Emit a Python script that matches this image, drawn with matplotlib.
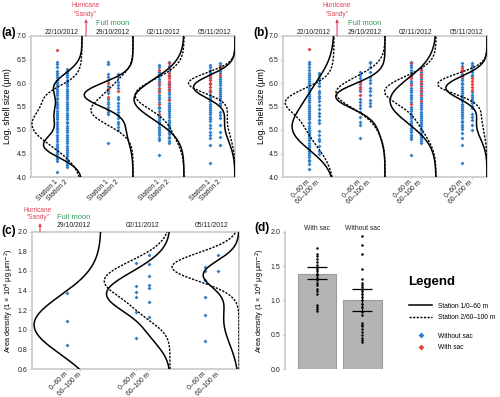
import numpy as np
import matplotlib.pyplot as plt
from matplotlib.lines import Line2D

plt.rcParams['font.family'] = ['Liberation Sans', 'DejaVu Sans']

W, H = 500, 397
BLUE = '#2f7fcb'
RED = '#e4423b'
GREEN = '#2e9a5a'
HURR = '#e0445a'
FRAME = '#c9c9c9'
DASH = (0, (1.6, 1.0))

dates_ab = ['22/10/2012', '29/10/2012', '02/11/2012', '05/11/2012']
dates_c = ['29/10/2012', '02/11/2012', '05/11/2012']

# density curves: (centre, spread, width as share of one date slot)
a_solid = [[(4.65, 0.25, 0.70), (5.30, 0.30, 0.50), (5.95, 0.27, 0.50)],
           [(5.75, 0.26, 0.95), (5.00, 0.30, 0.12)],
           [(5.65, 0.43, 0.98)],
           [(5.92, 0.25, 0.80), (5.10, 0.35, 0.20)]]
a_dash = [[(5.12, 0.47, 0.98), (5.78, 0.20, 0.30)],
          [(5.40, 0.30, 0.80), (5.95, 0.25, 0.25)],
          [(5.75, 0.33, 0.95), (5.00, 0.30, 0.18)],
          [(6.00, 0.22, 0.90), (5.20, 0.35, 0.15)]]
b_solid = [[(4.95, 0.42, 0.68), (5.70, 0.48, 0.40)],
           [(5.72, 0.27, 0.95), (5.10, 0.30, 0.12)],
           [(5.62, 0.48, 0.90)],
           [(5.90, 0.25, 0.80), (5.10, 0.30, 0.20)]]
b_dash = [[(5.65, 0.25, 0.60), (5.15, 0.50, 0.55)],
          [(5.80, 0.33, 0.95), (5.15, 0.30, 0.12)],
          [(5.85, 0.30, 0.95), (5.20, 0.35, 0.30)],
          [(5.98, 0.22, 0.95), (5.30, 0.35, 0.10)]]
c_solid = [[(1.05, 0.30, 0.97)],
           [(1.36, 0.20, 0.90), (0.95, 0.15, 0.20), (1.65, 0.15, 0.10)],
           [(1.57, 0.14, 0.48), (1.10, 0.25, 0.22)]]
c_dash = [[],
          [(1.50, 0.20, 0.95), (1.15, 0.12, 0.20)],
          [(1.64, 0.145, 0.97)]]

# (a) log shell size per station
a_st1_blue = [
    [6.45, 6.40, 6.33, 6.26, 6.21, 6.16, 6.12, 6.07, 6.02, 5.97, 5.93, 5.88, 5.83, 5.79, 5.74, 5.69,
     5.65, 5.60, 5.55, 5.51, 5.46, 5.41, 5.37, 5.32, 5.27, 5.23, 5.18, 5.13, 5.09, 5.04, 4.99, 4.95,
     4.90, 4.85, 4.81, 4.76, 4.71, 4.67, 4.62, 4.57, 4.53, 4.48, 4.43, 4.39, 4.34, 4.11],
    [6.45, 6.41, 6.20, 6.13, 6.06, 5.93, 5.84, 5.79, 5.65, 5.60, 5.55, 5.50, 5.43, 5.38, 5.33, 4.73],
    [6.38, 6.34, 6.23, 6.19, 6.14, 6.09, 6.05, 5.95, 5.86, 5.74, 5.70, 5.65, 5.60, 5.50, 5.46, 5.41,
     5.30, 5.26, 5.21, 5.17, 5.12, 5.07, 5.03, 4.98, 4.94, 4.89, 4.84, 4.79, 4.47],
    [6.38, 6.33, 6.28, 6.23, 6.19, 6.10, 5.97, 5.86, 5.80, 5.75, 5.70, 5.66, 5.61, 5.56, 5.52, 5.47,
     5.42, 5.38, 5.33, 5.28, 5.24, 5.20, 5.10, 5.04, 4.96, 4.89, 4.82, 4.68, 4.29]]
a_st1_red = [[6.70], [5.99, 5.88, 5.71], [6.28, 6.00, 5.90, 5.80, 5.55, 5.35],
             [6.15, 6.06, 6.00, 5.91, 5.83]]
a_st2_blue = [
    [6.30, 6.26, 6.21, 6.16, 6.12, 6.07, 6.02, 5.98, 5.93, 5.88, 5.84, 5.79, 5.74, 5.70, 5.65, 5.60,
     5.56, 5.51, 5.46, 5.42, 5.37, 5.32, 5.28, 5.23, 5.18, 5.14, 5.09, 5.04, 5.00, 4.95, 4.90, 4.86,
     4.81, 4.76, 4.72, 4.67, 4.62, 4.58, 4.53, 4.48, 4.44, 4.39, 4.34, 4.30, 4.26, 4.22],
    [6.20, 6.12, 6.03, 5.96, 5.89, 5.71, 5.65, 5.58, 5.52, 5.45, 5.38, 5.32, 5.25, 5.18, 5.12, 5.06, 5.01],
    [6.45, 6.36, 6.26, 6.18, 6.01, 5.95, 5.88, 5.80, 5.76, 5.71, 5.67, 5.58, 5.54, 5.49, 5.45, 5.40,
     5.36, 5.31, 5.27, 5.22, 5.18, 5.13, 5.09, 5.04, 5.00, 4.95, 4.91, 4.86, 4.82, 4.77, 4.72],
    [6.42, 6.38, 6.31, 6.26, 6.22, 6.13, 6.08, 6.04, 5.99, 5.95, 5.90, 5.86, 5.81, 5.77, 5.72, 5.68,
     5.63, 5.58, 5.53, 5.39, 5.32, 5.25, 5.11, 4.96, 4.86, 4.68]]
a_st2_red = [[], [5.82], [6.42, 6.31, 6.22, 6.14, 6.10, 6.05, 5.98, 5.92, 5.85, 5.63], [6.35, 6.17]]

# (b) log shell size per depth layer
b_st1_blue = [
    [6.45, 6.40, 6.33, 6.27, 6.22, 6.17, 6.13, 6.08, 6.04, 5.99, 5.95, 5.90, 5.86, 5.81, 5.77, 5.72,
     5.68, 5.63, 5.59, 5.54, 5.50, 5.45, 5.41, 5.36, 5.32, 5.27, 5.23, 5.18, 5.14, 5.09, 5.05, 5.00,
     4.96, 4.91, 4.87, 4.82, 4.78, 4.73, 4.69, 4.64, 4.60, 4.55, 4.51, 4.46, 4.42, 4.37, 4.33, 4.28, 4.16],
    [6.24, 6.17, 6.10, 5.98, 5.82, 5.67, 5.60, 5.53, 5.46, 5.39, 5.28, 5.18, 5.11, 4.82],
    [6.45, 6.38, 6.33, 6.28, 6.23, 6.14, 6.05, 6.00, 5.90, 5.85, 5.80, 5.75, 5.70, 5.65, 5.60, 5.50,
     5.45, 5.40, 5.35, 5.30, 5.25, 5.20, 5.15, 5.10, 5.05, 5.00, 4.95, 4.90, 4.85, 4.80, 4.47],
    [6.42, 6.37, 6.28, 6.20, 6.11, 6.06, 6.01, 5.97, 5.92, 5.88, 5.83, 5.79, 5.74, 5.70, 5.65, 5.61,
     5.56, 5.52, 5.47, 5.43, 5.38, 5.34, 5.29, 5.25, 5.20, 5.16, 5.11, 5.07, 5.02, 4.93, 4.82, 4.68, 4.29]]
b_st1_red = [[6.72], [6.03, 5.92, 5.87, 5.74], [6.42, 6.18, 6.10, 5.95, 5.55], [6.32, 6.25, 6.15]]
b_st2_blue = [
    [6.22, 6.17, 6.11, 6.06, 6.00, 5.93, 5.83, 5.79, 5.72, 5.69, 5.61, 5.54, 5.44, 5.37, 5.30, 5.22,
     5.15, 4.97, 4.90, 4.80, 4.76, 4.65, 4.55, 4.48],
    [6.45, 6.42, 6.35, 6.24, 6.13, 6.06, 5.99, 5.89, 5.82, 5.74, 5.64, 5.57, 5.52],
    [6.31, 6.24, 6.16, 6.08, 6.01, 5.94, 5.86, 5.79, 5.70, 5.66, 5.58, 5.53, 5.48, 5.44, 5.39, 5.35,
     5.30, 5.26, 5.21, 5.17, 5.12, 5.08, 5.03, 4.99, 4.94, 4.90, 4.85, 4.81, 4.76, 4.72],
    [6.43, 6.38, 6.33, 6.28, 6.23, 6.18, 6.14, 5.80, 5.75, 5.71, 5.66, 5.62, 5.57, 5.52, 5.46, 5.35,
     5.28, 5.21, 5.11, 5.00]]
b_st2_red = [[], [], [6.28, 6.20, 6.12, 6.05, 5.98, 5.90, 5.82, 5.75, 5.62], [6.10, 6.05, 5.98, 5.92, 5.85]]

# (c) area density
c_st1 = [[1.37, 1.09, 0.84], [1.68, 1.45, 1.39, 1.33, 1.18, 0.915], [1.636, 1.60, 1.51, 1.33, 1.147, 0.89]]
c_st2 = [[], [1.766, 1.67, 1.545, 1.453, 1.426, 1.283, 1.133], [1.76, 1.60]]

# (d) with / without sac
sac_groups = ['With sac', 'Without sac']
sac_vals = [1.76, 1.67, 1.64, 1.60, 1.56, 1.52, 1.49, 1.45, 1.43, 1.39, 1.37, 1.33, 1.30, 1.26,
            1.22, 1.17, 1.13, 1.09, 0.93, 0.91, 0.88, 0.84]
nosac_vals = [1.94, 1.81, 1.68, 1.46, 1.31, 1.26, 1.23, 1.20, 1.17, 1.13, 1.09, 1.05, 1.00, 0.95,
              0.91, 0.83, 0.79, 0.67, 0.64, 0.62, 0.58, 0.54, 0.50, 0.45, 0.42, 0.40]
bar_means = [1.39, 1.00]
err_low = [1.31, 0.84]
err_high = [1.48, 1.17]

shell_ticks = [4.0, 4.5, 5.0, 5.5, 6.0, 6.5, 7.0]
area_ticks = [0.6, 0.8, 1.0, 1.2, 1.4, 1.6, 1.8, 2.0]
d_ticks = [0.0, 0.5, 1.0, 1.5, 2.0]

fig = plt.figure(figsize=(W / 100, H / 100), dpi=100)


def px_axes(left, top, right, bottom):
    return fig.add_axes([left / W, 1 - bottom / H, (right - left) / W, (bottom - top) / H])


def profile(y, comps):
    d = np.zeros_like(y)
    for m, s, h in comps:
        d += h * np.exp(-0.5 * ((y - m) / s) ** 2)
    return d


def style(ax):
    for sp in ax.spines.values():
        sp.set_color(FRAME)
        sp.set_linewidth(1.2)
    ax.tick_params(length=2, width=0.6, color=FRAME, labelsize=5, pad=1.5, labelcolor='#222222')
    ax.tick_params(axis='x', length=1.5, pad=1.5, labelsize=4.9)


def violin_panel(ax, dates, solid, dashed, st1_blue, st1_red, st2_blue, st2_red,
                 ylim, yticks, names, date_y):
    n = len(dates)
    yy = np.linspace(ylim[0], ylim[1], 400)
    for g in range(n):
        if solid[g]:
            ax.plot(g + 1 - profile(yy, solid[g]), yy, color='black', lw=1.1, zorder=3)
        if dashed[g]:
            ax.plot(g + 1 - profile(yy, dashed[g]), yy, color='black', lw=1.0, ls=DASH, zorder=3)
        for x0, blue, red in ((g + 0.5, st1_blue[g], st1_red[g]), (g + 0.7, st2_blue[g], st2_red[g])):
            ax.plot([x0] * len(blue), blue, 'D', ms=2.0, color=BLUE, mec='none', zorder=2)
            ax.plot([x0] * len(red), red, 'D', ms=2.0, color=RED, mec='none', zorder=2.5)
        ax.text(g + 0.6, date_y, dates[g], transform=ax.get_xaxis_transform(),
                ha='center', va='center', fontsize=4.9, color='#222222')
    ax.set_xlim(0, n)
    ax.set_ylim(*ylim)
    ax.set_yticks(yticks)
    ax.set_yticklabels(['%.1f' % t for t in yticks])
    ax.set_xticks([g + o for g in range(n) for o in (0.5, 0.7)])
    ax.set_xticklabels(names * n, rotation=45, ha='right', va='center', rotation_mode='anchor')
    style(ax)


def events(ax, x_arrow, y_tip, x_text, y_text, x_moon, y_moon, ls):
    tr = ax.get_xaxis_transform()
    ax.annotate('', xy=(x_arrow, y_tip), xytext=(x_arrow, 1.0), xycoords=tr, textcoords=tr,
                annotation_clip=False,
                arrowprops=dict(arrowstyle='-|>', color=HURR, lw=0.8, mutation_scale=4,
                                shrinkA=0, shrinkB=0))
    ax.text(x_text, y_text, 'Hurricane\n“Sandy”', transform=tr, ha='center', va='center',
            color=HURR, fontsize=4.7, linespacing=ls)
    ax.text(x_moon, y_moon, 'Full moon', transform=tr, ha='center', va='center',
            color=GREEN, fontsize=5.4)


# (a)
ax_a = px_axes(31, 36, 235, 177)
violin_panel(ax_a, dates_ab, a_solid, a_dash, a_st1_blue, a_st1_red, a_st2_blue, a_st2_red,
             (4.0, 7.0), shell_ticks, ['Station 1', 'Station 2'], 1.028)
events(ax_a, 1.08, 1.12, 1.07, 1.184, 1.6, 1.092, 1.25)
ax_a.set_ylabel('Log. shell size (µm)', fontsize=6.2)
ax_a.yaxis.set_label_coords(-0.095, 0.5)

# (b)
ax_b = px_axes(283, 36, 487, 177)
violin_panel(ax_b, dates_ab, b_solid, b_dash, b_st1_blue, b_st1_red, b_st2_blue, b_st2_red,
             (4.0, 7.0), shell_ticks, ['0–60 m', '60–100 m'], 1.028)
events(ax_b, 1.06, 1.12, 1.06, 1.184, 1.6, 1.092, 1.25)
ax_b.set_ylabel('Log. shell size (µm)', fontsize=6.2)
ax_b.yaxis.set_label_coords(-0.085, 0.5)

# (c)
ax_c = px_axes(32, 231.7, 239, 369)
c_red = [[], [], []]
violin_panel(ax_c, dates_c, c_solid, c_dash, c_st1, c_red, c_st2, c_red,
             (0.6, 2.0), area_ticks, ['0–60 m', '60–100 m'], 1.044)
events(ax_c, 0.116, 1.063, 0.083, 1.131, 0.6, 1.107, 1.0)
ax_c.set_ylabel('Area density (1 × 10$^4$ µg µm$^{-2}$)', fontsize=5.3)
ax_c.yaxis.set_label_coords(-0.075, 0.5)

# (d)
ax_d = px_axes(285, 231.7, 390, 369)
ax_d.bar([0, 1], bar_means, width=0.85, color='#b4b4b4', edgecolor='#9c9c9c', lw=0.8, zorder=1)
ax_d.plot([0] * len(sac_vals), sac_vals, 'o', ms=1.8, color='black', mec='none', zorder=3)
ax_d.plot([1] * len(nosac_vals), nosac_vals, 'o', ms=1.8, color='black', mec='none', zorder=3)
yerr = [[m - lo for m, lo in zip(bar_means, err_low)], [hi - m for m, hi in zip(bar_means, err_high)]]
ax_d.errorbar([0, 1], bar_means, yerr=yerr, fmt='none', ecolor='black', elinewidth=0.9,
              capsize=7.2, capthick=0.9, zorder=4)
for i, name in enumerate(sac_groups):
    ax_d.text(i, 1.022, name, transform=ax_d.get_xaxis_transform(), ha='center', va='center',
              fontsize=4.9, color='#222222')
ax_d.set_xlim(-0.705, 1.607)
ax_d.set_ylim(0, 2.0)
ax_d.set_yticks(d_ticks)
ax_d.set_yticklabels(['%.1f' % t for t in d_ticks])
ax_d.set_xticks([])
style(ax_d)
for side in ('top', 'right', 'bottom'):
    ax_d.spines[side].set_visible(False)
ax_d.set_ylabel('Area density (1 × 10$^4$ µg µm$^{-2}$)', fontsize=5.3)
ax_d.yaxis.set_label_coords(-0.176, 0.5)

# panel letters
for label, x, y in (('(a)', 1, 33), ('(b)', 253, 33), ('(c)', 1, 231), ('(d)', 254, 228)):
    fig.text(x / W, 1 - y / H, label, fontsize=8.6, fontweight='bold', ha='left', va='center')

# legend
fig.text(408 / W, 1 - 282 / H, 'Legend', fontsize=9.5, fontweight='bold', ha='left', va='center')
line_handles = [Line2D([], [], color='black', lw=1.1), Line2D([], [], color='black', lw=1.0, ls=DASH)]
fig.legend(line_handles, ['Station 1/0–60 m', 'Station 2/60–100 m'], loc='upper left',
           bbox_to_anchor=(409 / W, 1 - 302.5 / H), frameon=False, fontsize=4.8, handlelength=3.45,
           handletextpad=0.9, labelspacing=0.65, borderpad=0, borderaxespad=0)
marker_handles = [Line2D([], [], ls='none', marker='D', ms=3, color=BLUE, mec='none'),
                  Line2D([], [], ls='none', marker='D', ms=3, color=RED, mec='none')]
fig.legend(marker_handles, ['Without sac', 'With sac'], loc='upper left',
           bbox_to_anchor=(409 / W, 1 - 332.5 / H), frameon=False, fontsize=4.8, handlelength=3.45,
           handletextpad=0.9, labelspacing=0.65, borderpad=0, borderaxespad=0)

fig.savefig('out.png', dpi=100)
